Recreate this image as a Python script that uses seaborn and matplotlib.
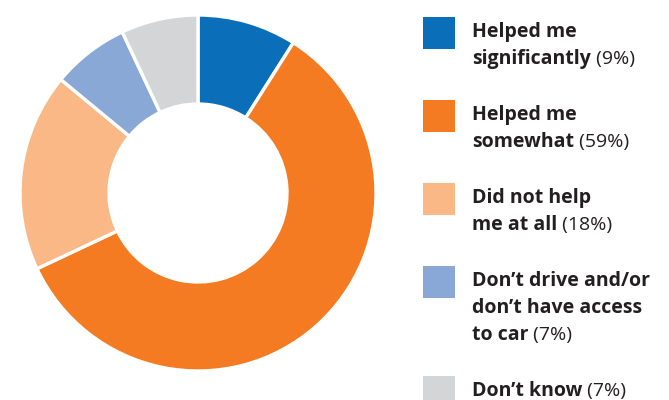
import matplotlib
matplotlib.use("Agg")
import matplotlib.pyplot as plt
import seaborn as sns

# Survey responses, in clockwise order from the top of the ring
categories = ["Helped me significantly", "Helped me somewhat", "Did not help me at all",
              "Don’t drive and/or don’t have access to car", "Don’t know"]
shares = [9, 59, 18, 7, 7]
colors = ["#0A6FB8", "#F47B22", "#F9B886", "#89A8D6", "#D4D5D7"]

# Legend wording: bold lines, with the share appended after the last one
label_lines = [
    ["Helped me", "significantly"],
    ["Helped me", "somewhat"],
    ["Did not help", "me at all"],
    ["Don’t drive and/or", "don’t have access", "to car"],
    ["Don’t know"],
]

sns.set_theme(style="white")
plt.rcParams["font.family"] = ["Open Sans", "DejaVu Sans"]

W, H = 669, 400
fig = plt.figure(figsize=(W / 100, H / 100), dpi=100)

# Donut
cx, cy, r = 198, 193, 178
ax = fig.add_axes([(cx - r) / W, 1 - (cy + r) / H, 2 * r / W, 2 * r / H])
palette = sns.color_palette(colors)
ax.pie(shares, colors=palette, startangle=90, counterclock=False,
       radius=1.0,
       wedgeprops=dict(width=0.5, edgecolor="white", linewidth=2.4))
ax.set_xlim(-1.0, 1.0)
ax.set_ylim(-1.0, 1.0)
ax.set_aspect("equal")
ax.axis("off")

# Legend drawn as squares plus two-weight text
text_color = "#231F20"
fs = 14
line_step = 27
renderer = fig.canvas.get_renderer()


def fx(px):
    return px / W


def fy(py):
    return 1 - py / H


baseline = 37
for lines, share, col in zip(label_lines, shares, palette):
    sq = plt.Rectangle((fx(423), fy(baseline + 12)), 32 / W, 32 / H,
                       transform=fig.transFigure, facecolor=col, edgecolor="none")
    fig.patches.append(sq)
    for i, line in enumerate(lines):
        y = baseline + i * line_step
        t = fig.text(fx(472), fy(y), line, fontsize=fs, fontweight="bold",
                     color=text_color, va="baseline", ha="left")
        if i == len(lines) - 1:
            bb = t.get_window_extent(renderer=renderer)
            fig.text(bb.x1 / W, fy(y), f" ({share}%)", fontsize=fs,
                     fontweight="normal", color=text_color, va="baseline", ha="left")
    baseline = baseline + (len(lines) - 1) * line_step + 56

fig.savefig("out.png", dpi=100)
